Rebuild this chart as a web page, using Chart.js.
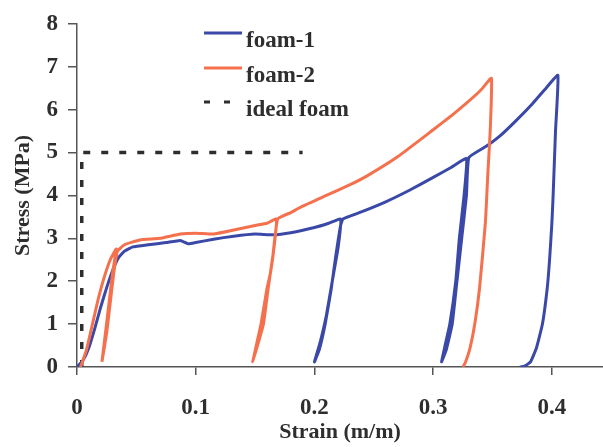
<!DOCTYPE html>
<html>
<head>
<meta charset="utf-8">
<script src="https://cdn.jsdelivr.net/npm/chart.js@4/dist/chart.umd.min.js"></script>
<style>
  html, body { margin: 0; padding: 0; background: #fff; }
  #wrap { width: 603px; height: 447px; }
</style>
</head>
<body>
<div id="wrap"><canvas id="myChart"></canvas></div>
<script>
// values
const xTicks = [0, 0.1, 0.2, 0.3, 0.4];
const yTicks = [0, 1, 2, 3, 4, 5, 6, 7, 8];

const foam1Strain = [0, 0.005, 0.01, 0.015, 0.02, 0.025, 0.03, 0.035, 0.04, 0.047, 0.06, 0.075, 0.087, 0.094, 0.1, 0.115, 0.132, 0.15, 0.165, 0.18, 0.2, 0.212, 0.222,
    0.22, 0.215, 0.21, 0.205, 0.2, 0.204, 0.209, 0.214, 0.218, 0.222, 0.224,
    0.24, 0.26, 0.28, 0.3, 0.315, 0.328,
    0.326, 0.322, 0.319, 0.314, 0.31, 0.307, 0.311, 0.316, 0.32, 0.324, 0.328, 0.33,
    0.345, 0.356, 0.37, 0.384, 0.395, 0.405,
    0.403, 0.401, 0.4, 0.398, 0.396, 0.392, 0.387, 0.382, 0.377, 0.373];
const foam1Stress = [0, 0.15, 0.45, 0.9, 1.4, 1.85, 2.25, 2.55, 2.7, 2.8, 2.85, 2.9, 2.95, 2.87, 2.9, 2.98, 3.05, 3.1, 3.08, 3.13, 3.25, 3.35, 3.45,
    2.8, 2.0, 1.2, 0.6, 0.12, 0.4, 1.0, 1.8, 2.6, 3.3, 3.45,
    3.62, 3.85, 4.12, 4.42, 4.65, 4.86,
    4.0, 3.0, 2.0, 1.0, 0.5, 0.12, 0.4, 1.0, 2.0, 3.0, 4.0, 4.88,
    5.15, 5.38, 5.75, 6.15, 6.5, 6.8,
    5.5, 4.0, 3.38, 2.5, 1.83, 1.0, 0.45, 0.12, 0.02, 0];

const foam2Strain = [0.003, 0.008, 0.013, 0.018, 0.023, 0.028, 0.033,
    0.03, 0.027, 0.024, 0.021, 0.025, 0.028, 0.031, 0.034,
    0.04, 0.053, 0.07, 0.087, 0.1, 0.115, 0.13, 0.15, 0.16, 0.168,
    0.166, 0.163, 0.16, 0.155, 0.151, 0.148, 0.152, 0.157, 0.161, 0.165, 0.169,
    0.18, 0.19, 0.21, 0.23, 0.244, 0.27, 0.3, 0.315, 0.328, 0.34, 0.349,
    0.348, 0.346, 0.344, 0.339, 0.335, 0.331, 0.327, 0.325];
const foam2Stress = [0, 0.4, 1.0, 1.6, 2.1, 2.5, 2.75,
    2.2, 1.5, 0.8, 0.12, 0.8, 1.5, 2.2, 2.7,
    2.85, 2.96, 3.0, 3.1, 3.12, 3.1, 3.18, 3.3, 3.35, 3.45,
    2.8, 2.2, 1.83, 1.0, 0.5, 0.12, 0.5, 1.0, 1.83, 2.6, 3.45,
    3.6, 3.75, 4.0, 4.25, 4.45, 4.9, 5.53, 5.85, 6.15, 6.45, 6.73,
    5.5, 4.5, 3.38, 1.83, 1.0, 0.44, 0.1, 0];

const idealStrain = [0.004, 0.004, 0.19];
const idealStress = [0, 5, 5];

const seriesNames = ["foam-1", "foam-2", "ideal foam"];
const seriesColors = ["#3a49a8", "#f5704c", "#2e2e2e"];

function toPoints(xs, ys) {
    return xs.map((x, i) => ({ x: x, y: ys[i] }));
}

const serif = "'Liberation Serif', 'Times New Roman', serif";

// legend drawn inside the plot, like the original
const innerLegend = {
    id: "innerLegend",
    afterDraw(chart) {
        const ctx = chart.ctx;
        const rows = [33, 68, 102];
        ctx.save();
        chart.data.datasets.forEach((ds, i) => {
            const y = rows[i];
            ctx.strokeStyle = ds.borderColor;
            ctx.lineWidth = 3;
            ctx.setLineDash(ds.borderDash ? [6, 14] : []);
            ctx.beginPath();
            ctx.moveTo(204, y);
            ctx.lineTo(242, y);
            ctx.stroke();
            ctx.setLineDash([]);
            ctx.fillStyle = "#2e2e2e";
            ctx.font = "bold 23px " + serif;
            ctx.textAlign = "left";
            ctx.textBaseline = "alphabetic";
            ctx.fillText(ds.label, 246, y + 14);
        });
        ctx.restore();
    }
};

new Chart("myChart", {
    type: "scatter",
    data: {
        datasets: [{
            label: seriesNames[0],
            data: toPoints(foam1Strain, foam1Stress),
            borderColor: seriesColors[0],
            borderWidth: 3,
            showLine: true,
            tension: 0.12,
            pointRadius: 0,
            order: 2
        }, {
            label: seriesNames[1],
            data: toPoints(foam2Strain, foam2Stress),
            borderColor: seriesColors[1],
            borderWidth: 3,
            showLine: true,
            tension: 0.12,
            pointRadius: 0,
            order: 1
        }, {
            label: seriesNames[2],
            data: toPoints(idealStrain, idealStress),
            borderColor: seriesColors[2],
            borderWidth: 3.5,
            borderDash: [7, 11],
            showLine: true,
            pointRadius: 0,
            order: 3
        }]
    },
    options: {
        responsive: true,
        maintainAspectRatio: false,
        animation: false,
        layout: { padding: { top: 19, right: 0, bottom: 0, left: 0 } },
        plugins: {
            legend: { display: false },
            tooltip: { enabled: false }
        },
        scales: {
            x: {
                type: "linear",
                min: 0,
                max: 0.443,
                afterBuildTicks: (scale) => { scale.ticks = xTicks.map(v => ({ value: v })); },
                afterFit: (scale) => { scale.height = 80; },
                grid: { drawOnChartArea: false, drawTicks: true, tickLength: 8, color: "#555", lineWidth: 1.5 },
                border: { display: true, color: "#555", width: 1.5 },
                ticks: {
                    color: "#2e2e2e",
                    padding: 19,
                    font: { family: serif, size: 23, weight: "bold" },
                    callback: (v) => String(v)
                },
                title: {
                    display: true,
                    text: "Strain (m/m)",
                    color: "#2e2e2e",
                    font: { family: serif, size: 22, weight: "bold" },
                    padding: { top: 0, bottom: 1 }
                }
            },
            y: {
                min: 0,
                max: 8,
                afterBuildTicks: (scale) => { scale.ticks = yTicks.map(v => ({ value: v })); },
                afterFit: (scale) => { scale.width = 77; },
                grid: { drawOnChartArea: false, drawTicks: true, tickLength: 9, color: "#555", lineWidth: 1.5 },
                border: { display: true, color: "#555", width: 1.5 },
                ticks: {
                    color: "#2e2e2e",
                    padding: 10,
                    font: { family: serif, size: 23, weight: "bold" }
                },
                title: {
                    display: true,
                    text: "Stress (MPa)",
                    color: "#2e2e2e",
                    font: { family: serif, size: 22, weight: "bold" },
                    padding: { top: 10, bottom: 0 }
                }
            }
        }
    },
    plugins: [innerLegend]
});
</script>
</body>
</html>
